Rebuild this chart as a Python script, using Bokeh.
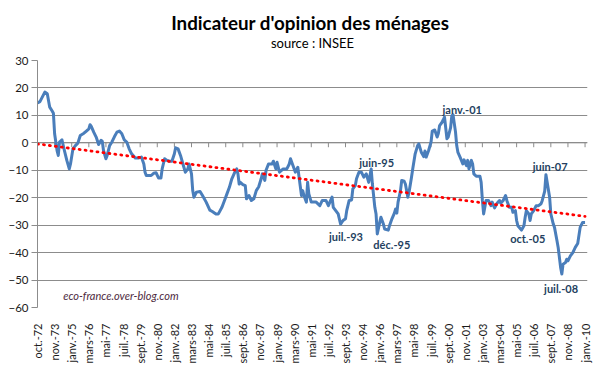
from bokeh.plotting import figure
from bokeh.models import Range1d, Title, Label, FixedTicker
from bokeh.embed import file_html
from bokeh.resources import INLINE

# ---- data (month index since oct.-72, indicator value) ----
month_idx = [0, 2, 6, 8, 10, 12, 13, 14, 16, 17, 18, 20, 22, 24, 26, 27, 29, 31, 33, 35,
             38, 40, 42, 43, 44, 46, 48, 50, 52, 53, 54, 56, 57, 59, 61, 63, 65, 67, 69, 71,
             73, 75, 77, 80, 83, 85, 87, 88, 89, 93, 95, 97, 99, 101, 102, 104, 106, 108, 110, 112,
             113, 115, 117, 119, 121, 123, 124, 126, 127, 128, 130, 133, 135, 138, 141, 143, 146, 148, 151, 153,
             155, 157, 159, 161, 163, 164, 165, 166, 168, 170, 171, 173, 175, 177, 179, 181, 183, 184, 186, 187,
             189, 192, 193, 195, 196, 198, 201, 204, 206, 207, 209, 211, 213, 214, 216, 217, 218, 220, 221, 222,
             224, 226, 228, 231, 233, 236, 238, 241, 242, 244, 246, 248, 250, 252, 253, 255, 257, 258, 260, 261,
             263, 265, 267, 269, 271, 273, 274, 276, 277, 278, 280, 281, 283, 284, 287, 288, 290, 292, 293, 294,
             295, 297, 298, 300, 301, 303, 304, 306, 307, 309, 311, 312, 314, 316, 317, 318, 320, 322, 323, 325,
             327, 328, 329, 331, 332, 333, 335, 336, 338, 339, 340, 342, 343, 344, 346, 348, 349, 351, 352, 353,
             355, 356, 357, 359, 362, 363, 364, 365, 367, 369, 371, 372, 374, 376, 378, 379, 381, 383, 384, 386,
             388, 389, 391, 392, 393, 396, 398, 399, 400, 402, 403, 404, 406, 408, 410, 412, 413, 415, 416, 417,
             419, 420, 422, 423, 425, 426, 428, 429, 430, 432, 433, 434, 436, 438, 440, 442, 444, 446, 448]
indicator = [14.5, 15, 18.5, 17.9, 13, 11.6, 10.8, 3.3, -2.8, -4.6, 0.3, 1.1, -2.8, -6.4, -9.5, -7.7, -2.2, -1, -0.1, 2.7,
             3.5, 4.3, 5.1, 6.6, 6.0, 3.9, 2.1, -0.6, 0.9, 0.6, -2.8, -5.8, -4.6, -1, 0.4, 2.3, 3.9, 4.3, 3.3, 1.1,
             0.3, -2.2, -4.0, -5.5, -5.5, -5.2, -7.7, -10.7, -11.9, -11.9, -11.1, -10.9, -12.8, -12.8, -9.5, -5.8, -6.4, -6.7, -6.7, -4.0,
             -1.8, -2.2, -4.6, -7.7, -10.7, -9.5, -7.7, -11.3, -17.4, -19.8, -18, -17.7, -19.2, -21.6, -24.5, -25, -25.9, -25.9, -23.4, -21,
             -18.6, -16.2, -13.1, -11.1, -9.5, -11.3, -15.0, -14.4, -15.2, -15.6, -20.4, -19.2, -21, -20.4, -17.4, -16, -13.1, -11.3, -13.7, -10,
             -7.7, -7.7, -6.7, -9.5, -7.1, -10.7, -9.5, -9.5, -7.7, -5.8, -8.3, -10.7, -8.9, -12.5, -19.2, -17.4, -19.2, -21.6, -14.4, -18.6,
             -21.6, -21.6, -21.6, -22.9, -21, -21, -22.9, -19.8, -23.5, -24.7, -25.9, -29.6, -28.3, -27.7, -24.7, -21, -20.8, -16.8, -15.6, -13.1,
             -10.7, -10.7, -12.5, -11.3, -14.4, -9.5, -15, -23.5, -25.9, -33.2, -29, -27.1, -29.6, -31.4, -31.8, -30.2, -27.7, -25.6, -24.1, -25.6,
             -21.6, -17.4, -13.7, -14.0, -15, -19.8, -18, -12.5, -9.5, -4.0, -1.0, -0.4, -3.4, -5.0, -3.0, -5.2, -2.8, 0.3, 4.3, 4.7,
             2.1, 3.5, 6.3, 7.5, 8.4, 9.4, 1.5, 2.1, 5.5, 9.9, 10.2, 4, -1, -3.5, -5.5, -7.7, -6.2, -8.3, -6.4, -9.5,
             -6.4, -7.7, -11.3, -12.2, -12.2, -14.4, -21, -25.9, -21, -21, -22.9, -21.6, -23.7, -22, -21, -22, -21, -19.2, -21, -23.5,
             -23.5, -25.3, -24.7, -28.3, -30.2, -31.8, -30.2, -27.1, -24.7, -25.9, -28.3, -25.9, -24.7, -22.9, -22.9, -22.2, -21, -17.6, -11.6, -14.4,
             -19.8, -25.9, -29.6, -30.8, -35.6, -38.1, -45.4, -47.8, -44.2, -43.6, -42.4, -43, -41.2, -40, -38.1, -36.7, -30.8, -29, -29]

# linear trend (read at both ends of the dotted line)
trend_x = [0, 448]
trend_y = [-0.4, -26.8]

# category labels, one every 14 points
tick_labels = ["oct.-72", "nov.-73", "janv.-75", "mars-76", "mai-77", "juil.-78", "sept.-79", "nov.-80",
               "janv.-82", "mars-83", "mai-84", "juil.-85", "sept.-86", "nov.-87", "janv.-89", "mars-90",
               "mai-91", "juil.-92", "sept.-93", "nov.-94", "janv.-96", "mars-97", "mai-98", "juil.-99",
               "sept.-00", "nov.-01", "janv.-03", "mars-04", "mai-05", "juil.-06", "sept.-07", "nov.-08", "janv.-10"]
tick_step = 14
y_ticks = [30, 20, 10, 0, -10, -20, -30, -40, -50, -60]

# point annotations: text, x, y (label centre)
ann_text = ["juil.-93", "juin-95", "déc.-95", "janv.-01", "oct.-05", "juin-07", "juil.-08"]
ann_x = [252.4, 277.5, 289.9, 347.5, 401.1, 419.4, 428.4]
ann_y = [-34.1, -7.0, -37.1, 12.1, -35.0, -8.7, -53.2]

FONT = "Lato"
x_ticks = [i * tick_step for i in range(len(tick_labels))]

p = figure(width=600, height=372, output_backend="svg", toolbar_location=None,
           x_range=Range1d(0, 450), y_range=Range1d(-60, 30),
           min_border_left=37, min_border_right=13, min_border_top=60, min_border_bottom=65)
p.background_fill_color = "white"
p.border_fill_color = "white"
p.outline_line_color = None

# titles (subtitle nearest the plot, main title above it)
p.add_layout(Title(text="source : INSEE", align="center", text_font=FONT,
                   text_font_size="13px", text_font_style="normal", text_color="#000000",
                   standoff=20), "above")
p.add_layout(Title(text="Indicateur d'opinion  des ménages", align="center", text_font=FONT,
                   text_font_size="18.8px", text_font_style="bold", text_color="#000000",
                   standoff=-22), "above")

# grid
p.xgrid.grid_line_color = None
p.ygrid.grid_line_color = "#8c8c8c"
p.ygrid.grid_line_width = 1
p.ygrid.ticker = FixedTicker(ticks=y_ticks)

# y axis
p.yaxis.ticker = FixedTicker(ticks=y_ticks)
p.yaxis.axis_line_color = "#8c8c8c"
p.yaxis.major_tick_line_color = "#8c8c8c"
p.yaxis.major_tick_out = 6
p.yaxis.major_tick_in = 0
p.yaxis.minor_tick_line_color = None
p.yaxis.major_label_text_font = FONT
p.yaxis.major_label_text_font_size = "11.5px"
p.yaxis.major_label_text_color = "#1a1a1a"
p.yaxis.major_label_standoff = 3

# x axis (labels at the bottom, ticks drawn on the zero line)
p.xaxis.ticker = FixedTicker(ticks=x_ticks)
p.xaxis.major_label_overrides = {t: lab for t, lab in zip(x_ticks, tick_labels)}
p.xaxis.major_label_orientation = 1.5708
p.xaxis.axis_line_color = None
p.xaxis.major_tick_line_color = None
p.xaxis.minor_tick_line_color = None
p.xaxis.major_label_text_font = FONT
p.xaxis.major_label_text_font_size = "11px"
p.xaxis.major_label_text_color = "#1a1a1a"
p.xaxis.major_label_standoff = 10

# zero axis with tick marks
p.line(x=[0, 450], y=[0, 0], line_color="#8c8c8c", line_width=1)
p.segment(x0=x_ticks, y0=[0] * len(x_ticks), x1=x_ticks, y1=[-1.6] * len(x_ticks),
          line_color="#8c8c8c", line_width=1)

# series
p.line(x=month_idx, y=indicator, line_color="#4A7EBB", line_width=3, line_join="round")
p.line(x=trend_x, y=trend_y, line_color="#FF0000", line_width=2.8,
       line_dash="1 5", line_cap="round")

for t, x, y in zip(ann_text, ann_x, ann_y):
    p.add_layout(Label(x=x, y=y, text=t, text_align="center", text_baseline="middle",
                       text_font=FONT, text_font_size="11px", text_font_style="bold",
                       text_color="#243F60"))

p.add_layout(Label(x=21, y=-55.7, text="eco-france.over-blog.com", text_align="left",
                   text_baseline="middle", text_font=FONT, text_font_size="11px",
                   text_font_style="italic", text_color="#4E2A3E"))

open("out.html", "w").write(file_html(p, INLINE))
